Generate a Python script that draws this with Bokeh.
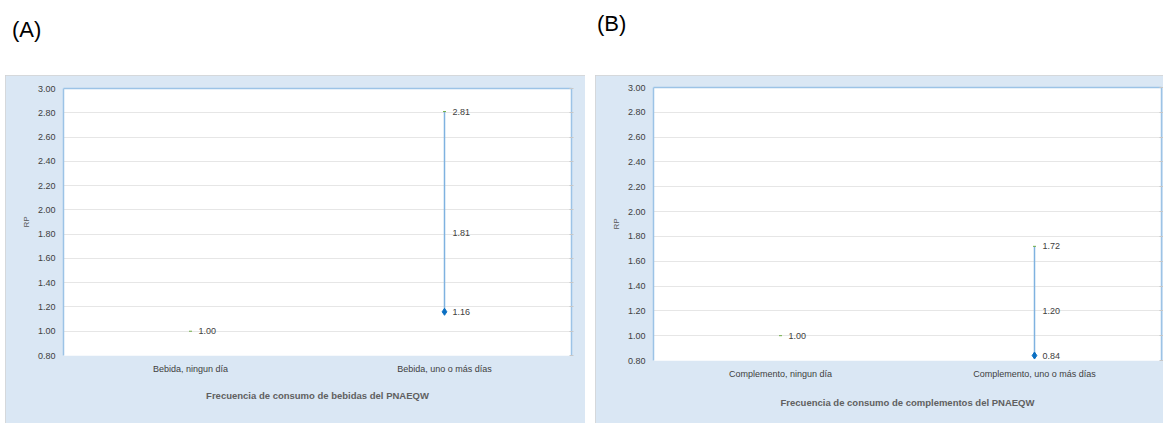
from bokeh.plotting import figure
from bokeh.models import (FactorRange, Range1d, LinearAxis, Div, Spacer, ColumnDataSource,
                          FixedTicker, NumeralTickFormatter, Title)
from bokeh.layouts import column, row
from bokeh.embed import file_html
from bokeh.resources import INLINE
from bokeh.core.properties import value

# ---- data ----
cats_a = ["Bebida, ningun día", "Bebida, uno o más días"]
rp_a = [1.00, 1.81]
low_a = [1.00, 1.16]
high_a = [1.00, 2.81]
title_a = "Frecuencia de consumo de bebidas del PNAEQW"

cats_b = ["Complemento, ningun día", "Complemento, uno o más días"]
rp_b = [1.00, 1.20]
low_b = [1.00, 0.84]
high_b = [1.00, 1.72]
title_b = "Frecuencia de consumo de complementos del PNAEQW"

y_min, y_max, y_step = 0.80, 3.00, 0.20
y_ticks = [round(y_min + i * y_step, 2) for i in range(int(round((y_max - y_min) / y_step)) + 1)]

BG = "#dae7f4"
BLUE_LINE = "#9cc3e6"
FONT = "Liberation Sans"


def make_panel(cats, rp, low, high, xtitle, width, height, top, bottom, right,
               title_standoff):
    p = figure(x_range=FactorRange(*cats), y_range=Range1d(y_min, y_max),
               width=width, height=height, output_backend="svg", toolbar_location=None,
               min_border_left=58, min_border_right=right, min_border_top=top,
               min_border_bottom=bottom,
               styles={"outline": "1px solid #d3d3d3", "outline-offset": "-1px"})
    p.border_fill_color = BG
    p.background_fill_color = "white"
    p.outline_line_color = None
    p.xgrid.grid_line_color = None
    p.ygrid.grid_line_color = "#e6e6e6"
    p.ygrid.grid_line_width = 1

    p.yaxis.ticker = FixedTicker(ticks=y_ticks)
    p.yaxis.formatter = NumeralTickFormatter(format="0.00")
    p.yaxis.axis_label = "RP"
    p.yaxis.axis_label_text_font = FONT
    p.yaxis.axis_label_text_font_size = "8px"
    p.yaxis.axis_label_text_font_style = "normal"
    p.yaxis.axis_label_text_color = "#595959"
    p.yaxis.axis_label_standoff = 4
    p.yaxis.major_label_text_font = FONT
    p.yaxis.major_label_text_font_size = "9px"
    p.yaxis.major_label_text_color = "#404040"
    p.yaxis.major_tick_line_color = None
    p.yaxis.major_tick_out = 0
    p.yaxis.major_tick_in = 0
    p.yaxis.minor_tick_line_color = None
    p.yaxis.axis_line_color = BLUE_LINE
    p.yaxis.axis_line_width = 1.5
    p.yaxis.major_label_standoff = 8

    p.xaxis.axis_line_color = None
    p.xaxis.major_tick_line_color = None
    p.xaxis.major_tick_out = 0
    p.xaxis.major_tick_in = 0
    p.xaxis.major_label_text_font = FONT
    p.xaxis.major_label_text_font_size = "9px"
    p.xaxis.major_label_text_color = "#404040"
    p.xaxis.major_label_standoff = 8

    # x-axis title as a title below the axis
    p.add_layout(Title(text=xtitle, align="center", text_font=FONT, text_font_size="9.5px",
                       text_font_style="bold", text_color="#606060",
                       standoff=title_standoff), "below")

    # top border line (no ticks, no labels)
    top_ax = LinearAxis(ticker=FixedTicker(ticks=[]), major_tick_line_color=None,
                        minor_tick_line_color=None, axis_line_color=BLUE_LINE,
                        axis_line_width=1.5, major_label_standoff=0,
                        major_tick_in=0, major_tick_out=0, minor_tick_in=0, minor_tick_out=0)
    p.add_layout(top_ax, "above")
    # right border line with small tick marks (minor ticks only -> no labels)
    right_ax = LinearAxis(ticker=FixedTicker(ticks=[], minor_ticks=y_ticks),
                          major_tick_line_color=None, major_tick_in=0, major_tick_out=0,
                          minor_tick_line_color="#c8c8c8", minor_tick_in=2, minor_tick_out=2,
                          axis_line_color=BLUE_LINE, axis_line_width=1.5, major_label_standoff=0)
    p.add_layout(right_ax, "right")

    seg_idx = [i for i in range(len(cats)) if low[i] != high[i]]
    ref_idx = [i for i in range(len(cats)) if low[i] == high[i]]
    seg = ColumnDataSource(dict(x=[cats[i] for i in seg_idx], low=[low[i] for i in seg_idx],
                                high=[high[i] for i in seg_idx], rp=[rp[i] for i in seg_idx],
                                low_t=[f"{low[i]:.2f}" for i in seg_idx],
                                high_t=[f"{high[i]:.2f}" for i in seg_idx],
                                rp_t=[f"{rp[i]:.2f}" for i in seg_idx]))
    ref = ColumnDataSource(dict(x=[cats[i] for i in ref_idx], rp=[rp[i] for i in ref_idx],
                                rp_t=[f"{rp[i]:.2f}" for i in ref_idx]))

    p.segment(x0="x", y0="low", x1="x", y1="high", source=seg, line_color="#7fb2e0", line_width=1.5)
    p.scatter(x="x", y="high", source=seg, marker="dash", size=3, line_color="#70ad47", line_width=1)
    p.scatter(x="x", y="low", source=seg, marker="diamond", size=7, fill_color="#0a6fc2",
              line_color="#0a6fc2")
    txt = dict(text_font=value(FONT), text_font_size="9px", text_color="#404040",
               text_baseline="middle", x_offset=8)
    p.text(x="x", y="high", text="high_t", source=seg, **txt)
    p.text(x="x", y="low", text="low_t", source=seg, **txt)
    p.text(x="x", y="rp", text="rp_t", source=seg, **txt)

    p.scatter(x="x", y="rp", source=ref, marker="dash", size=3, line_color="#70ad47", line_width=1)
    p.text(x="x", y="rp", text="rp_t", source=ref, **txt)
    return p


pa = make_panel(cats_a, rp_a, low_a, high_a, title_a, 580, 348, 13, 68, 14, 22)
pb = make_panel(cats_b, rp_b, low_b, high_b, title_b, 568, 348, 12, 63, 1, 27)

header = Div(text=(
    '<div style="position:relative;width:1163px;height:75px;font-family:Liberation Sans,Arial;'
    'font-size:22px;color:#000;">'
    '<span style="position:absolute;left:12px;top:14px;">(A)</span>'
    '<span style="position:absolute;left:597px;top:8px;">(B)</span></div>'),
    width=1163, height=75, margin=0, styles={"overflow": "hidden"})

layout = column(header,
                row(Spacer(width=5, height=348, margin=0), column(pa, spacing=0),
                    Spacer(width=10, height=348, margin=0), column(pb, spacing=0), spacing=0),
                spacing=0)

with open("out.html", "w") as f:
    f.write(file_html(layout, INLINE))
